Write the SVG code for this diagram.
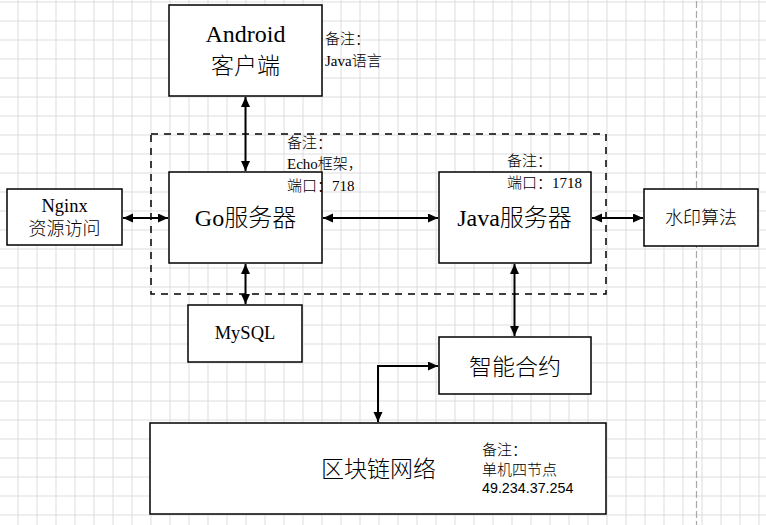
<svg xmlns="http://www.w3.org/2000/svg" width="766" height="525" viewBox="0 0 766 525">
<style>
.box{fill:#fff;stroke:#000;stroke-width:1.5}
.t{font-family:"Liberation Serif","Noto Sans CJK SC",serif;fill:#000;text-anchor:middle;font-weight:300}
.n{font-family:"Liberation Serif","Noto Sans CJK SC",serif;fill:#000;font-size:15px;font-weight:300}
.c{fill:none;stroke:#000;stroke-width:2}
</style>
<defs>
<pattern id="grid" patternUnits="userSpaceOnUse" x="17.5" y="1.5" width="19" height="19">
<path d="M0.5 0V19M0 0.5H19" fill="none" stroke="#dcdcdc" stroke-width="1"/>
</pattern>
<marker id="ah" markerUnits="userSpaceOnUse" markerWidth="11" markerHeight="10" refX="10" refY="4.5" orient="auto-start-reverse">
<path d="M0 0L10 4.5L0 9z" fill="#000"/>
</marker>
</defs>
<rect width="766" height="525" fill="#fff"/>
<rect width="766" height="525" fill="url(#grid)"/>
<line x1="696.5" y1="1" x2="696.5" y2="525" stroke="#a8a8a8" stroke-width="1.2" stroke-dasharray="7 3"/>
<rect x="151" y="134" width="455" height="160" fill="none" stroke="#000" stroke-width="1.5" stroke-dasharray="7 6"/>
<g id="connectors">
<line class="c" x1="245.5" y1="97" x2="245.5" y2="171" marker-start="url(#ah)" marker-end="url(#ah)"/>
<line class="c" x1="245.5" y1="264" x2="245.5" y2="304" marker-start="url(#ah)" marker-end="url(#ah)"/>
<line class="c" x1="123" y1="218" x2="168" y2="218" marker-start="url(#ah)" marker-end="url(#ah)"/>
<line class="c" x1="323" y1="218" x2="438" y2="218" marker-start="url(#ah)" marker-end="url(#ah)"/>
<line class="c" x1="592" y1="218" x2="643" y2="218" marker-start="url(#ah)" marker-end="url(#ah)"/>
<line class="c" x1="514.5" y1="264" x2="514.5" y2="336" marker-start="url(#ah)" marker-end="url(#ah)"/>
<polyline class="c" points="438,366 378,366 378,422" marker-start="url(#ah)" marker-end="url(#ah)"/>
</g>
<g id="android">
<rect class="box" x="169" y="5" width="153" height="91"/>
<text class="t" x="245.5" y="42" font-size="24">Android</text>
<text class="t" x="245.5" y="74" font-size="23">客户端</text>
</g>
<g id="android-note">
<text class="n" x="325" y="44">备注：</text>
<text class="n" x="325" y="66">Java语言</text>
</g>
<g id="nginx">
<rect class="box" x="7" y="189" width="115" height="56"/>
<text class="t" x="64.5" y="212" font-size="18.5">Nginx</text>
<text class="t" x="64.5" y="235" font-size="18">资源访问</text>
</g>
<g id="go">
<rect class="box" x="169" y="172" width="153" height="91"/>
<text class="t" x="245.5" y="226" font-size="24">Go服务器</text>
</g>
<g id="go-note">
<text class="n" x="287" y="148">备注：</text>
<text class="n" x="287" y="169">Echo框架，</text>
<text class="n" x="287" y="191">端口：718</text>
</g>
<g id="java">
<rect class="box" x="439" y="172" width="152" height="91"/>
<text class="t" x="514.5" y="226" font-size="24">Java服务器</text>
</g>
<g id="java-note">
<text class="n" x="507" y="166">备注：</text>
<text class="n" x="507" y="188">端口：1718</text>
</g>
<g id="watermark">
<rect class="box" x="644" y="189" width="114" height="57"/>
<text class="t" x="701" y="224" font-size="18">水印算法</text>
</g>
<g id="mysql">
<rect class="box" x="188" y="305" width="114" height="57"/>
<text class="t" x="245" y="339" font-size="18.5">MySQL</text>
</g>
<g id="contract">
<rect class="box" x="439" y="337" width="152" height="57"/>
<text class="t" x="515" y="375" font-size="23">智能合约</text>
</g>
<g id="blockchain">
<rect class="box" x="150" y="423" width="456" height="91"/>
<text class="t" x="378.5" y="477" font-size="23">区块链网络</text>
<text class="n" x="482" y="455">备注：</text>
<text class="n" x="482" y="475" font-size="16">单机四节点</text>
<text x="482" y="493" font-family="Liberation Sans, Arial, sans-serif" font-size="14.3" fill="#000">49.234.37.254</text>
</g>
</svg>
